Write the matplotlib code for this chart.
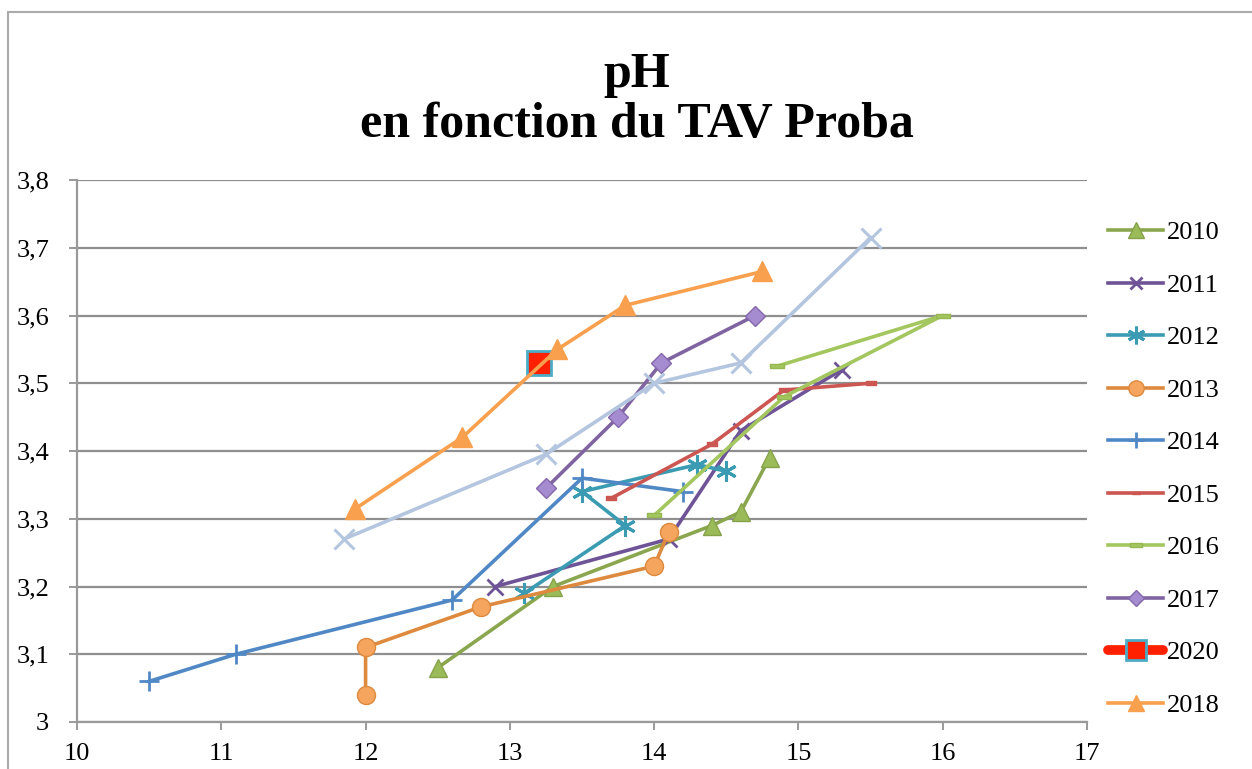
import matplotlib
matplotlib.use('Agg')
import matplotlib.pyplot as plt
from matplotlib.patches import Rectangle
from matplotlib.ticker import FuncFormatter

# valeurs (TAV proba, pH)
tav_2010 = [12.5, 13.3, 14.4, 14.6, 14.8]
ph_2010 = [3.08, 3.20, 3.29, 3.31, 3.39]
tav_2011 = [12.9, 14.1, 14.6, 15.3]
ph_2011 = [3.20, 3.27, 3.43, 3.52]
tav_2012 = [13.1, 13.8, 13.5, 14.3, 14.5]
ph_2012 = [3.19, 3.29, 3.34, 3.38, 3.37]
tav_2013 = [12.0, 12.0, 12.8, 14.0, 14.1]
ph_2013 = [3.04, 3.11, 3.17, 3.23, 3.28]
tav_2014 = [10.5, 11.1, 12.6, 13.5, 14.2]
ph_2014 = [3.06, 3.10, 3.18, 3.36, 3.34]
tav_2015 = [13.7, 14.4, 14.9, 15.5]
ph_2015 = [3.33, 3.41, 3.49, 3.50]
tav_2016 = [14.0, 14.9, 16.0, 14.85]
ph_2016 = [3.305, 3.48, 3.60, 3.525]
tav_2017 = [13.25, 13.75, 14.05, 14.7]
ph_2017 = [3.345, 3.45, 3.53, 3.60]
# serie sans entree de legende (bleu clair)
tav_autre = [11.85, 13.25, 14.0, 14.6, 15.5]
ph_autre = [3.27, 3.395, 3.50, 3.53, 3.715]
tav_2020 = [13.2]
ph_2020 = [3.53]
tav_2018 = [11.93, 12.67, 13.33, 13.8, 14.75]
ph_2018 = [3.315, 3.42, 3.55, 3.615, 3.665]

x_ticks = [10, 11, 12, 13, 14, 15, 16, 17]
y_ticks = [3.0, 3.1, 3.2, 3.3, 3.4, 3.5, 3.6, 3.7, 3.8]

W, H = 1252, 769
fig = plt.figure(figsize=(W / 100, H / 100), dpi=100)
ax = fig.add_axes([77 / W, 1 - 722 / H, (1087 - 77) / W, (722 - 180) / H])

serif = 'Liberation Serif'
dash = [(-1, -0.35), (1, -0.35), (1, 0.35), (-1, 0.35), (-1, -0.35)]
lw = 2.6

ax.plot(tav_2010, ph_2010, color='#8AA64E', lw=lw, marker='^', ms=13,
        mfc='#9BBB59', mec='#86A24A', label='2010')
ax.plot(tav_2011, ph_2011, color='#6E5497', lw=lw, marker='x', ms=11,
        mew=2, mec='#6E5497', label='2011')
ax.plot(tav_2012, ph_2012, color='#3A9BB2', lw=lw, marker=(6, 2, 0), ms=15,
        mew=2.2, mec='#3A9BB2', label='2012')
ax.plot(tav_2013, ph_2013, color='#DE8A3E', lw=lw, marker='o', ms=13,
        mfc='#F5A55E', mec='#DE8A3E', label='2013')
ax.plot(tav_2014, ph_2014, color='#5088C6', lw=lw, marker='+', ms=14,
        mew=2, mec='#5088C6', label='2014')
ax.plot(tav_2015, ph_2015, color='#CC5651', lw=lw, marker=dash, ms=7,
        mfc='#CC5651', mec='#CC5651', label='2015')
ax.plot(tav_2016, ph_2016, color='#A3C65E', lw=lw, marker=dash, ms=10,
        mfc='#A3C65E', mec='#96B752', label='2016')
ax.plot(tav_2017, ph_2017, color='#8064A2', lw=lw, marker='D', ms=10,
        mfc='#A58BCF', mec='#8567AC', label='2017')
ax.plot(tav_autre, ph_autre, color='#B4C6DF', lw=lw, marker='x', ms=14,
        mew=2.2, mec='#B4C6DF', label='_nolegend_')
ax.plot(tav_2020, ph_2020, color='#FF2000', lw=7, solid_capstyle='round',
        marker='s', ms=17, mfc='#FF2000', mec='#4BACC6', mew=2, label='2020')
ax.plot(tav_2018, ph_2018, color='#F9A04E', lw=lw, marker='^', ms=14,
        mfc='#F9A04E', mec='#F9A04E', label='2018')

ax.set_xlim(10, 17)
ax.set_ylim(3.0, 3.8)
ax.set_xticks(x_ticks)
ax.set_yticks(y_ticks)
ax.yaxis.set_major_formatter(FuncFormatter(lambda v, p: f'{v:g}'.replace('.', ',')))

ax.grid(axis='y', color='#8F8F8F', lw=1.6)
ax.set_axisbelow(True)
for s in ['top', 'right']:
    ax.spines[s].set_visible(False)
for s in ['left', 'bottom']:
    ax.spines[s].set_color('#9A9A9A')
    ax.spines[s].set_linewidth(1.6)
ax.tick_params(axis='y', length=6, width=1.4, color='#9A9A9A', pad=14,
               labelsize=19)
ax.tick_params(axis='x', length=6, width=1.4, color='#9A9A9A', pad=9,
               labelsize=19)
for t in ax.get_xticklabels() + ax.get_yticklabels():
    t.set_fontfamily(serif)

fig.text(637 / W, 1 - 100 / H, 'pH\nen fonction du TAV Proba', ha='center',
         va='center', fontsize=36, fontweight='bold', family=serif,
         linespacing=1.12)

leg = ax.legend(loc='upper left', bbox_to_anchor=(1108 / W, 1 - 221 / H),
                bbox_transform=fig.transFigure, frameon=False, borderpad=0,
                borderaxespad=0, handlelength=2.1, handletextpad=0.15,
                labelspacing=1.1, markerscale=0.85,
                prop={'family': serif, 'size': 19})

# cadre du graphique
fig.patches.append(Rectangle((8 / W, -0.1), 2, 1.1 - 12 / H, fill=False,
                             edgecolor='#ABABAB', lw=1.5,
                             transform=fig.transFigure, figure=fig))

fig.savefig('out.png', dpi=100)
